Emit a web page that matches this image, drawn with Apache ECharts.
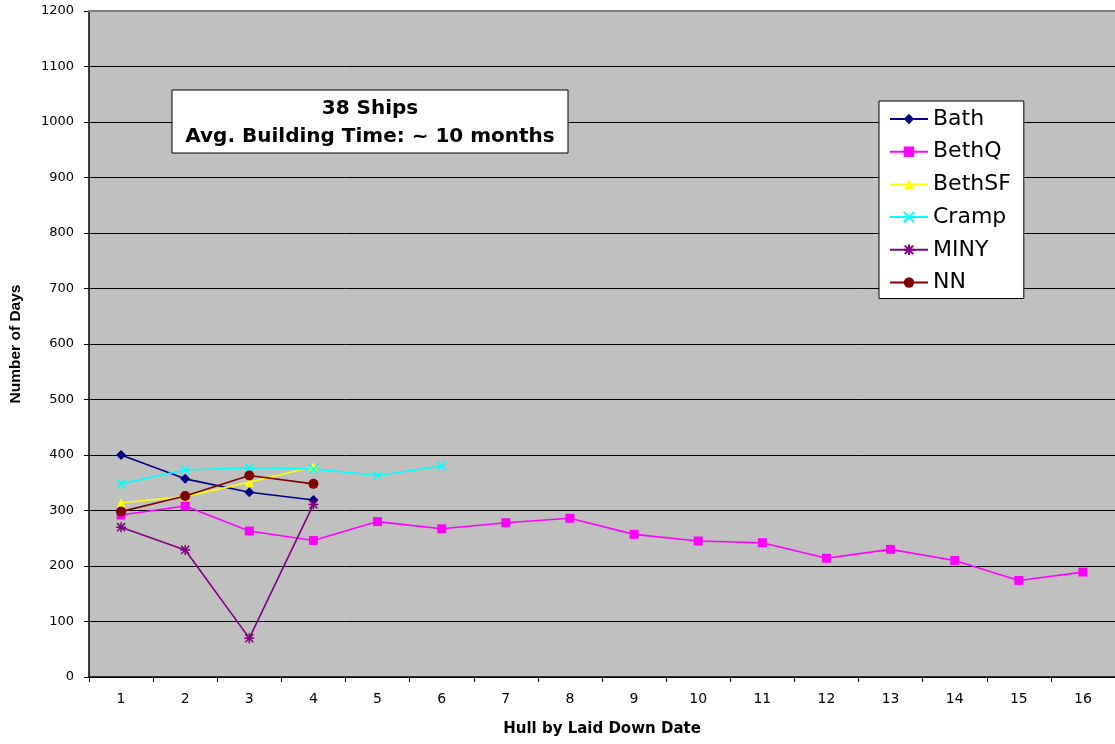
<!DOCTYPE html>
<html>
<head>
<meta charset="utf-8">
<script src="https://cdn.jsdelivr.net/npm/echarts@6/dist/echarts.min.js"></script>
<style>
  html, body { margin: 0; padding: 0; background: #ffffff; }
  #chart { width: 1115px; height: 744px; }
</style>
</head>
<body>
<div id="chart"></div>
<script>
// Hull order (by laid-down date) on the category axis
const hulls = ['1','2','3','4','5','6','7','8','9','10','11','12','13','14','15','16'];
const yTicks = [0, 1200, 100];

// Building time in days per shipyard
const bath   = [400, 357, 333, 319];
const bethQ  = [292, 308, 263, 246, 280, 267, 278, 286, 257, 245, 242, 214, 230, 210, 174, 189];
const bethSF = [314, 325, 351, 379];
const cramp  = [348, 373, 377, 375, 363, 380];
const miny   = [270, 229, 70, 311];
const nn     = [298, 326, 363, 348];

const noteLines = ['38 Ships', 'Avg. Building Time: ~ 10 months'];

const ARIAL = '"Liberation Sans", Arial, Helvetica, sans-serif';
const WIDE  = '"DejaVu Sans", Verdana, sans-serif';

// Stroked marker shapes: an "x" cross and an eight-armed asterisk
const crossPath = 'path://M0,0L10,10M10,0L0,10';
const starPath  = 'path://M0,0L10,10M10,0L0,10M5,-1.2L5,11.2M-1.2,5L11.2,5';

function lineSeries(name, data, color, symbol, size, stroked) {
  return {
    name: name,
    type: 'line',
    data: data,
    symbol: symbol,
    symbolSize: size,
    showAllSymbol: true,
    animation: false,
    lineStyle: { color: color, width: 1.6 },
    itemStyle: stroked
      ? { color: 'rgba(0,0,0,0)', borderColor: color, borderWidth: 1.5 }
      : { color: color, borderWidth: 0 },
    emphasis: { disabled: true }
  };
}

const chart = echarts.init(document.getElementById('chart'), null, { renderer: 'canvas' });

chart.setOption({
  animation: false,
  backgroundColor: '#ffffff',
  textStyle: { fontFamily: ARIAL },
  grid: {
    left: 88, top: 11, width: 1035, height: 666,
    show: true, backgroundColor: '#c0c0c0', borderWidth: 0
  },
  legend: {
    orient: 'vertical',
    left: 879, top: 101,
    padding: [7, 13, 5, 10],
    backgroundColor: '#ffffff',
    borderColor: '#000000',
    borderWidth: 1,
    borderRadius: 0,
    itemWidth: 38,
    itemHeight: 13,
    itemGap: 10.7,
    textStyle: { fontSize: 22, lineHeight: 22, color: '#000000', fontFamily: WIDE },
    data: ['Bath', 'BethQ', 'BethSF', 'Cramp', 'MINY', 'NN']
  },
  xAxis: {
    type: 'category',
    data: hulls,
    boundaryGap: true,
    name: 'Hull by Laid Down Date',
    nameLocation: 'middle',
    nameGap: 45,
    nameTextStyle: { fontSize: 15, fontWeight: 'bold', color: '#000000', fontFamily: WIDE },
    axisLine: { show: true, lineStyle: { color: '#000000', width: 1.5 } },
    axisTick: { show: true, length: 5, inside: false, lineStyle: { color: '#000000' } },
    axisLabel: { fontSize: 14, color: '#000000', margin: 15, fontFamily: WIDE },
    splitLine: { show: false }
  },
  yAxis: {
    type: 'value',
    min: yTicks[0], max: yTicks[1], interval: yTicks[2],
    name: 'Number of Days',
    nameLocation: 'middle',
    nameGap: 65,
    nameTextStyle: { fontSize: 15.5, fontWeight: 'bold', color: '#000000', fontFamily: ARIAL },
    axisLine: { show: true, lineStyle: { color: '#000000', width: 1.5 } },
    axisTick: { show: true, length: 5, inside: false, lineStyle: { color: '#000000' } },
    axisLabel: {
      fontSize: 13, color: '#000000', margin: 15, fontFamily: WIDE,
      formatter: function (v) { return String(v); }
    },
    splitLine: { show: true, lineStyle: { color: '#000000', width: 1 } }
  },
  graphic: [
    // plot-area top edge
    {
      type: 'line', z: 5,
      shape: { x1: 88, y1: 11, x2: 1115, y2: 11 },
      style: { stroke: '#808080', lineWidth: 2 }
    },
    // annotation box
    {
      type: 'rect', z: 100,
      shape: { x: 172, y: 90, width: 396, height: 63 },
      style: { fill: '#ffffff', stroke: '#000000', lineWidth: 1 }
    },
    {
      type: 'text', z: 101, x: 370, y: 95,
      style: {
        text: noteLines.join('\n'),
        align: 'center', verticalAlign: 'top',
        font: 'bold 20px ' + WIDE, lineHeight: 28, fill: '#000000'
      }
    }
  ],
  series: [
    lineSeries('Bath',   bath,   '#000080', 'diamond',  10, false),
    lineSeries('BethQ',  bethQ,  '#ff00ff', 'rect',     9,  false),
    lineSeries('BethSF', bethSF, '#ffff00', 'triangle', 9,  false),
    lineSeries('Cramp',  cramp,  '#00ffff', crossPath,  9,  true),
    lineSeries('MINY',   miny,   '#800080', starPath,   10, true),
    lineSeries('NN',     nn,     '#800000', 'circle',   10, false)
  ]
});
</script>
</body>
</html>
